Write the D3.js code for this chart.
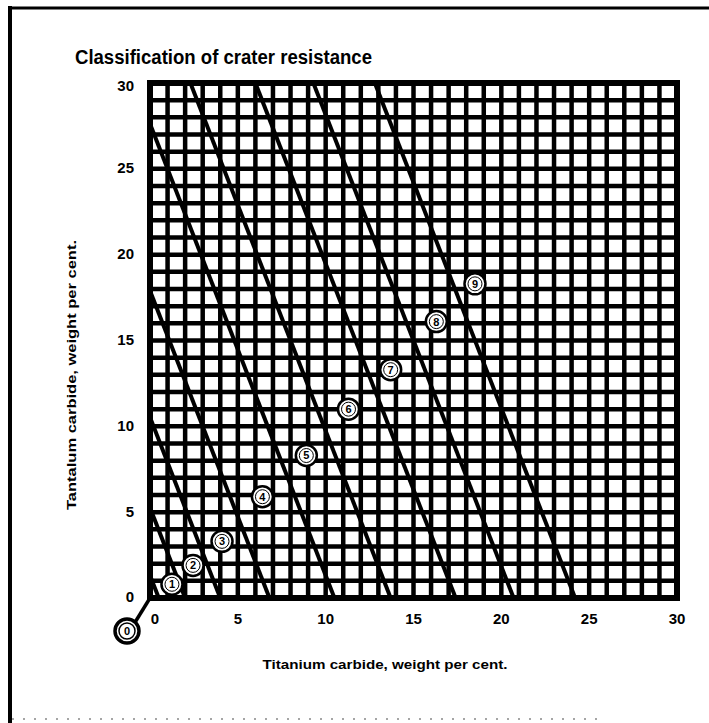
<!DOCTYPE html>
<html>
<head>
<meta charset="utf-8">
<script src="https://cdn.jsdelivr.net/npm/d3@7"></script>
<style>
  body { margin: 0; background: #fff; }
  svg text { font-family: "Liberation Sans", "DejaVu Sans", sans-serif; font-weight: bold; fill: #000; }
</style>
</head>
<body>
<div id="chart"></div>
<script>
// ---- data ----
const xTicks = [0, 5, 10, 15, 20, 25, 30];
const yTicks = [0, 5, 10, 15, 20, 25, 30];
const gridSteps = d3.range(0, 31);            // one cell per weight per cent
// class boundaries: TiC + slope * TaC = intercept
const boundarySlope = 0.38;
const boundaryIntercepts = [0.5, 2.0, 4.0, 6.8, 10.5, 13.7, 17.4, 20.7, 24.2];
// class markers (TiC, TaC)
const classLabels = ["1", "2", "3", "4", "5", "6", "7", "8", "9"];
const classTiC = [1.25, 2.45, 4.1, 6.4, 8.9, 11.3, 13.7, 16.3, 18.5];
const classTaC = [0.8, 1.9, 3.3, 5.9, 8.3, 11.0, 13.3, 16.1, 18.3];

(function() {
  const fullW = 709, fullH = 723;
  const margin = { top: 83, right: 32, bottom: 125, left: 150 };
  const W = fullW - margin.left - margin.right;
  const H = fullH - margin.top - margin.bottom;

  const svg = d3.select("#chart").append("svg")
    .attr("width", fullW).attr("height", fullH);

  // page frame of the scan
  svg.append("line").attr("x1", 10).attr("x2", 10).attr("y1", 6).attr("y2", 723)
    .attr("stroke", "#000").attr("stroke-width", 4);
  svg.append("line").attr("x1", 8).attr("x2", 709).attr("y1", 8).attr("y2", 8)
    .attr("stroke", "#000").attr("stroke-width", 3);
  svg.append("line").attr("x1", 12).attr("x2", 600).attr("y1", 719).attr("y2", 719)
    .attr("stroke", "#888").attr("stroke-width", 1.5).attr("stroke-dasharray", "2,9");

  svg.append("text")
    .attr("x", 75).attr("y", 64)
    .attr("font-size", 20)
    .attr("textLength", 297).attr("lengthAdjust", "spacingAndGlyphs")
    .text("Classification of crater resistance");

  const g = svg.append("g").attr("transform", `translate(${margin.left},${margin.top})`);

  const x = d3.scaleLinear().domain([0, 30]).range([0, W]);
  const y = d3.scaleLinear().domain([0, 30]).range([H, 0]);

  g.append("clipPath").attr("id", "plot-clip")
    .append("rect").attr("width", W).attr("height", H);

  // grid
  const gridG = g.append("g").attr("stroke", "#000").attr("stroke-width", 4.5);
  gridG.selectAll(".vx").data(gridSteps).join("line")
    .attr("x1", d => x(d)).attr("x2", d => x(d))
    .attr("y1", 0).attr("y2", H);
  gridG.selectAll(".hy").data(gridSteps).join("line")
    .attr("y1", d => y(d)).attr("y2", d => y(d))
    .attr("x1", 0).attr("x2", W);
  g.append("rect").attr("width", W).attr("height", H)
    .attr("fill", "none").attr("stroke", "#000").attr("stroke-width", 6);

  // class boundary lines
  g.append("g").attr("clip-path", "url(#plot-clip)")
    .selectAll("line").data(boundaryIntercepts).join("line")
    .attr("x1", d => x(d)).attr("y1", y(0))
    .attr("x2", d => x(d - boundarySlope * 30)).attr("y2", y(30))
    .attr("stroke", "#000").attr("stroke-width", 4);

  // class markers
  const markers = classLabels.map((lab, i) => ({ lab, tic: classTiC[i], tac: classTaC[i] }));
  const mg = g.selectAll(".marker").data(markers).join("g")
    .attr("transform", d => `translate(${x(d.tic)},${y(d.tac)})`);
  mg.append("circle").attr("r", 10.5)
    .attr("fill", "#fff").attr("stroke", "#000").attr("stroke-width", 2.5);
  mg.append("circle").attr("r", 7)
    .attr("fill", "none").attr("stroke", "#000").attr("stroke-width", 1);
  mg.append("text").attr("text-anchor", "middle").attr("dy", "0.36em")
    .attr("font-size", 11).text(d => d.lab);

  // class 0 marker outside the origin
  g.append("line").attr("x1", x(0)).attr("y1", y(0)).attr("x2", -16).attr("y2", H + 26)
    .attr("stroke", "#000").attr("stroke-width", 3.5);
  const zero = g.append("g").attr("transform", `translate(-23,${H + 33})`);
  zero.append("circle").attr("r", 12).attr("fill", "#fff").attr("stroke", "#000").attr("stroke-width", 3.5);
  zero.append("circle").attr("r", 8).attr("fill", "none").attr("stroke", "#000").attr("stroke-width", 1.5);
  zero.append("text").attr("text-anchor", "middle").attr("dy", "0.36em").attr("font-size", 11).text("0");

  // tick labels
  g.selectAll(".xt").data(xTicks).join("text")
    .attr("x", d => x(d) + (d === 0 ? 5 : 0)).attr("y", H + 26)
    .attr("text-anchor", "middle").attr("font-size", 15).text(d => d);
  g.selectAll(".yt").data(yTicks).join("text")
    .attr("x", -16).attr("y", d => y(d) + (d === 30 ? 3 : -1)).attr("dy", "0.36em")
    .attr("text-anchor", "end").attr("font-size", 15).text(d => d);

  // axis titles
  svg.append("text").attr("x", 385).attr("y", 669)
    .attr("text-anchor", "middle").attr("font-size", 13)
    .attr("textLength", 245).attr("lengthAdjust", "spacingAndGlyphs")
    .text("Titanium carbide, weight per cent.");
  svg.append("text")
    .attr("transform", "translate(76,375) rotate(-90)")
    .attr("text-anchor", "middle").attr("font-size", 13)
    .attr("textLength", 270).attr("lengthAdjust", "spacingAndGlyphs")
    .text("Tantalum carbide, weight per cent.");
})();
</script>
</body>
</html>
